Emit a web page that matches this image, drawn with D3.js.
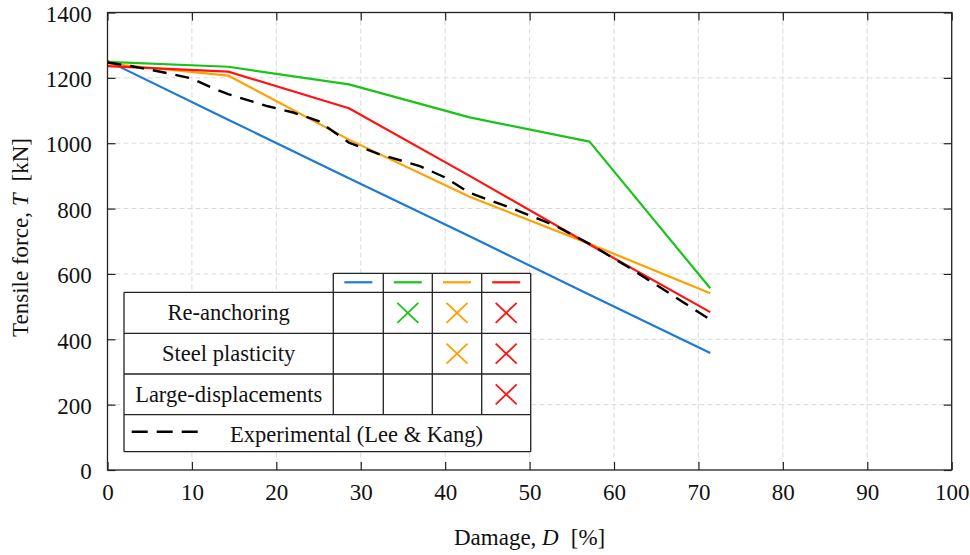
<!DOCTYPE html>
<html>
<head>
<meta charset="utf-8">
<script src="https://cdn.jsdelivr.net/npm/d3@7"></script>
<style>
  body { margin: 0; background: #fff; }
  svg { display: block; font-family: "Liberation Serif", "Times New Roman", serif; }
</style>
</head>
<body>
<svg id="chart" width="970" height="555"></svg>
<script>
// Numerical model results: damage levels (one broken wire out of seven per step)
const damage = [0, 14.3, 28.6, 42.9, 57.1, 71.4];
const tensionElastic   = [1252, 1072, 893, 715, 536, 358];
const tensionReanchor  = [1249, 1234, 1180, 1079, 1005, 556];
const tensionPlastic   = [1244, 1207, 1011, 836, 692, 541];
const tensionLargeDisp = [1236, 1219, 1107, 900, 690, 483];

// Experimental curve (Lee & Kang)
const expDamage  = [0, 3, 7, 10, 12.5, 14.3, 19, 22, 25, 28.6, 32, 37, 40, 42.9, 48, 53, 57.1, 62, 66, 71.4];
const expTension = [1247, 1235, 1215, 1198, 1168, 1150, 1113, 1094, 1068, 1002, 968, 930, 895, 848, 800, 748, 692, 616, 550, 460];

const xTicks = [0, 10, 20, 30, 40, 50, 60, 70, 80, 90, 100];
const yTicks = [0, 200, 400, 600, 800, 1000, 1200, 1400];

const seriesColors = ["#1c7ad6", "#17c417", "#ffa000", "#ff1212"];
const seriesValues = [tensionElastic, tensionReanchor, tensionPlastic, tensionLargeDisp];

const effectLabels = ["Re-anchoring", "Steel plasticity", "Large-displacements"];
// Which model (column) accounts for which effect (row)
const effectMatrix = [
  [false, true, true, true],
  [false, false, true, true],
  [false, false, false, true]
];
const experimentLabel = "Experimental (Lee & Kang)";

const svg = d3.select("#chart");
const pLeft = 107.5, pRight = 951.7, pTop = 12.5, pBottom = 470;

const x = d3.scaleLinear().domain([0, 100]).range([pLeft, pRight]);
const y = d3.scaleLinear().domain([0, 1400]).range([pBottom, pTop]);

// Dashed grid
const grid = svg.append("g").attr("stroke", "#d9d9d9").attr("stroke-width", 1)
  .attr("stroke-dasharray", "5,3").attr("fill", "none");
grid.selectAll("line.v").data(xTicks.slice(1, -1)).join("line").attr("class", "v")
  .attr("x1", d => x(d)).attr("x2", d => x(d)).attr("y1", pTop).attr("y2", pBottom);
grid.selectAll("line.h").data(yTicks.slice(1, -1)).join("line").attr("class", "h")
  .attr("y1", d => y(d)).attr("y2", d => y(d)).attr("x1", pLeft).attr("x2", pRight);

// Model curves
const line = d3.line().x(d => x(d[0])).y(d => y(d[1]));
seriesValues.forEach((vals, i) => {
  svg.append("path")
    .datum(damage.map((d, j) => [d, vals[j]]))
    .attr("d", line)
    .attr("fill", "none")
    .attr("stroke", seriesColors[i])
    .attr("stroke-width", 2.2)
    .attr("stroke-linejoin", "round");
});

// Experimental curve
svg.append("path")
  .datum(expDamage.map((d, j) => [d, expTension[j]]))
  .attr("d", line)
  .attr("fill", "none")
  .attr("stroke", "#000")
  .attr("stroke-width", 2.4)
  .attr("stroke-dasharray", "14,9");

// Axes: inward ticks on all four sides
const fs = 23;
const fmt = d3.format("d");
const axB = svg.append("g").attr("transform", `translate(0,${pBottom})`)
  .call(d3.axisBottom(x).tickValues(xTicks).tickFormat(fmt).tickSizeInner(-8).tickSizeOuter(0).tickPadding(13.7));
const axL = svg.append("g").attr("transform", `translate(${pLeft},0)`)
  .call(d3.axisLeft(y).tickValues(yTicks).tickFormat(fmt).tickSizeInner(-8).tickSizeOuter(0).tickPadding(15.8));
const axT = svg.append("g").attr("transform", `translate(0,${pTop})`)
  .call(d3.axisTop(x).tickValues(xTicks).tickSizeInner(-8).tickSizeOuter(0).tickFormat(""));
const axR = svg.append("g").attr("transform", `translate(${pRight},0)`)
  .call(d3.axisRight(y).tickValues(yTicks).tickSizeInner(-8).tickSizeOuter(0).tickFormat(""));
[axB, axL, axT, axR].forEach(a => {
  a.attr("font-family", null).attr("font-size", null);
  a.select(".domain").remove();
  a.selectAll(".tick line").attr("stroke", "#222").attr("stroke-width", 1.2);
  a.selectAll("text").style("font-family", "'Liberation Serif', serif").attr("font-size", fs).attr("fill", "#111");
});
axL.selectAll("text").attr("dy", "0.38em");

// Legend table
const lg = svg.append("g");
const colX = [124, 333.3, 383.3, 432.3, 481.7, 530.7];
const rowY = [273.3, 292.3, 333.3, 374, 414.7, 451.7];
const ink = "#222";
lg.append("rect").attr("x", colX[0]).attr("y", rowY[1])
  .attr("width", colX[5] - colX[0]).attr("height", rowY[5] - rowY[1]).attr("fill", "#fff");
lg.append("rect").attr("x", colX[1]).attr("y", rowY[0])
  .attr("width", colX[5] - colX[1]).attr("height", rowY[1] - rowY[0]).attr("fill", "#fff");

const seg = (x1, y1, x2, y2) => lg.append("line").attr("x1", x1).attr("y1", y1).attr("x2", x2).attr("y2", y2)
  .attr("stroke", ink).attr("stroke-width", 1.3);
// horizontal rules
seg(colX[1], rowY[0], colX[5], rowY[0]);
for (let r = 1; r < rowY.length; r++) seg(colX[0], rowY[r], colX[5], rowY[r]);
// vertical rules
seg(colX[0], rowY[1], colX[0], rowY[5]);
for (let c = 1; c < 5; c++) seg(colX[c], rowY[0], colX[c], rowY[4]);
seg(colX[5], rowY[0], colX[5], rowY[5]);

// column headers: line samples
seriesColors.forEach((col, i) => {
  const cx = (colX[i + 1] + colX[i + 2]) / 2;
  const cy = (rowY[0] + rowY[1]) / 2 - 0.5;
  lg.append("line").attr("x1", cx - 14).attr("x2", cx + 14).attr("y1", cy).attr("y2", cy)
    .attr("stroke", col).attr("stroke-width", 2.2);
});

// effect rows
effectLabels.forEach((lab, r) => {
  const cy = (rowY[r + 1] + rowY[r + 2]) / 2;
  lg.append("text").attr("x", (colX[0] + colX[1]) / 2).attr("y", cy + 7.2)
    .attr("text-anchor", "middle").attr("font-size", 22.5).attr("fill", "#111").text(lab);
  effectMatrix[r].forEach((on, c) => {
    if (!on) return;
    const cx = (colX[c + 1] + colX[c + 2]) / 2;
    const g = lg.append("g").attr("stroke", seriesColors[c]).attr("stroke-width", 1.8);
    g.append("line").attr("x1", cx - 10.5).attr("y1", cy - 10).attr("x2", cx + 10.5).attr("y2", cy + 10);
    g.append("line").attr("x1", cx - 10.5).attr("y1", cy + 10).attr("x2", cx + 10.5).attr("y2", cy - 10);
  });
});

// experimental row
{
  const cy = (rowY[4] + rowY[5]) / 2;
  lg.append("line").attr("x1", 131.7).attr("x2", 198.3).attr("y1", cy - 1.5).attr("y2", cy - 1.5)
    .attr("stroke", "#000").attr("stroke-width", 2.4).attr("stroke-dasharray", "16,9");
  lg.append("text").attr("x", 230).attr("y", cy + 8.5).attr("font-size", 22.5).attr("fill", "#111")
    .text(experimentLabel);
}

// Frame
svg.append("rect").attr("x", pLeft).attr("y", pTop).attr("width", pRight - pLeft).attr("height", pBottom - pTop)
  .attr("fill", "none").attr("stroke", ink).attr("stroke-width", 1.3);

// Axis titles
const xt = svg.append("text").attr("x", (pLeft + pRight) / 2).attr("y", 545)
  .attr("text-anchor", "middle").attr("font-size", fs).attr("fill", "#111");
xt.append("tspan").text("Damage, ");
xt.append("tspan").attr("font-style", "italic").text("D");
xt.append("tspan").attr("dx", 12).text("[%]");

const yt = svg.append("text").attr("transform", `translate(28,${237.5}) rotate(-90)`)
  .attr("text-anchor", "middle").attr("font-size", fs).attr("fill", "#111");
yt.append("tspan").text("Tensile force, ");
yt.append("tspan").attr("font-style", "italic").text("T");
yt.append("tspan").attr("dx", 12).text("[kN]");
</script>
</body>
</html>
